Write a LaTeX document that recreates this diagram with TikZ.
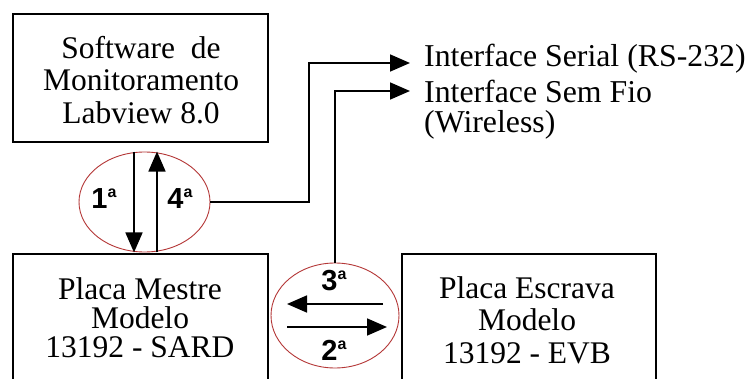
\documentclass[tikz,border=0pt]{standalone}
\usepackage{fontspec}
\setmainfont{Liberation Serif}
\newfontfamily\lblfont{Liberation Sans}
\usetikzlibrary{shapes.geometric,arrows.meta}
\definecolor{ringred}{RGB}{180,55,55}
\newcommand{\ordn}[1]{#1\raisebox{11pt}{\fontsize{16}{16}\selectfont a}}
\begin{document}
\begin{tikzpicture}[x=1pt,y=-1pt,
 box/.style={draw,line width=1.7pt,minimum width=255pt,inner sep=0pt},
 txt/.style={align=center,font=\fontsize{31.5}{32.5}\selectfont,inner sep=0pt},
 ring/.style={draw=ringred,line width=0.9pt,ellipse,inner sep=0pt},
 flow/.style={line width=1.7pt,-{Triangle[length=20pt,width=17pt]}},
 ord/.style={font=\lblfont\bfseries\fontsize{29}{29}\selectfont,inner sep=0pt},
 side/.style={font=\fontsize{31.8}{33}\selectfont,anchor=base west,inner xsep=14pt,inner ysep=0pt}]
\useasboundingbox (0,0) rectangle (755,379);
\clip (0,0) rectangle (755,379);
\fill[white] (0,0) rectangle (755,379);

% boxes
\node[box,minimum height=128pt] (sw) at (140.5,78) {};
\node[txt] (swtxt) at (141,80) {Software\ \ de\\Monitoramento\\Labview 8.0};

\node[box,minimum height=150pt] (mestre) at (140.5,329) {};
\node[txt,font=\fontsize{31.5}{29}\selectfont] (mestretxt) at (140,318) {Placa Mestre\\Modelo\\13192 - SARD};

\node[box,minimum width=254pt,minimum height=150pt] (escrava) at (529,329) {};
\node[txt] (escravatxt) at (527,320) {Placa Escrava\\Modelo\\13192 - EVB};

% ellipses
\node[ring,minimum width=131pt,minimum height=100pt] (c1) at (144.5,202) {};
\node[ring,minimum width=128pt,minimum height=105pt] (c2) at (335,315.5) {};

% interface texts
\node[side] (l1) at (410,67) {Interface Serial (RS-232)};
\node[side] (l2) at (410,103) {Interface Sem Fio};
\node[side] (l3) at (410,133) {(Wireless)};
\coordinate (s1) at ([yshift=4pt]l1.base west);
\coordinate (s2) at ([yshift=12pt]l2.base west);
\coordinate (k1) at (309,0);

% arrows inside ring 1
\draw[flow] ([xshift=-10.5pt]c1.north) -- ([xshift=-10.5pt]c1.south);
\draw[flow] ([xshift=12.5pt]c1.south) -- ([xshift=12.5pt]c1.north);
\node[ord] (o1) at (104,199) {\ordn{1}};
\node[ord] (o4) at (180,199) {\ordn{4}};

% arrows inside ring 2
\draw[flow] ([xshift=48pt,yshift=11.5pt]c2.center) -- ([xshift=-48pt,yshift=11.5pt]c2.center);
\draw[flow] ([xshift=-48pt,yshift=-11.5pt]c2.center) -- ([xshift=52pt,yshift=-11.5pt]c2.center);
\node[ord] (o3) at (334,281) {\ordn{3}};
\node[ord] (o2) at (334,350) {\ordn{2}};

% connectors to interfaces
\draw[flow] (c1.east) -- (c1.east -| k1) -- (k1 |- s1) -- (s1);
\draw[flow] (c2.north) |- (s2);
\end{tikzpicture}
\end{document}
